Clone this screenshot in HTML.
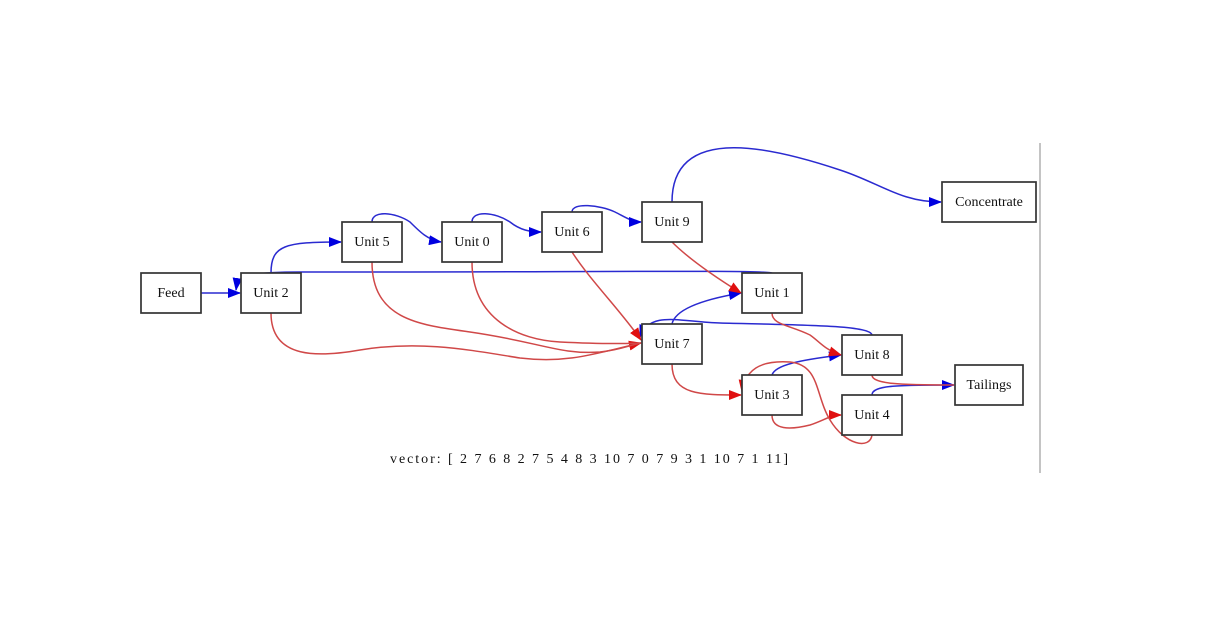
<!DOCTYPE html>
<html><head><style>
body{margin:0;background:#fff;}
svg text{font-family:"Liberation Serif",serif;font-size:14px;}
</style></head><body>
<svg width="1205" height="636" xmlns="http://www.w3.org/2000/svg">
<defs>
<marker id="b" markerWidth="13" markerHeight="10" refX="12" refY="5" orient="auto" markerUnits="userSpaceOnUse"><path d="M0,0 L13,5 L0,10 z" fill="#0000e0"/></marker>
<marker id="r" markerWidth="13" markerHeight="10" refX="12" refY="5" orient="auto" markerUnits="userSpaceOnUse"><path d="M0,0 L13,5 L0,10 z" fill="#e01010"/></marker>
</defs>
<line x1="1040" y1="143" x2="1040" y2="473" stroke="#888" stroke-width="1"/>
<g fill="none" stroke-width="1.5">
<g stroke="#2a2ad0">
<path d="M201,293 L240,293" marker-end="url(#b)"/>
<path d="M271,273 C271,245 285,242 341,242" marker-end="url(#b)"/>
<path d="M372,222 C372,210 395,212 410,222 C420,232 428,240 441,242" marker-end="url(#b)"/>
<path d="M472,222 C472,210 495,212 510,222 C520,230 530,232 541,232" marker-end="url(#b)"/>
<path d="M572,212 C572,202 600,205 615,212 C625,217 632,222 641,222" marker-end="url(#b)"/>
<path d="M672,202 C672,120 780,150 840,170 C880,183 900,202 941,202" marker-end="url(#b)"/>
<path d="M772,273 C770,270 600,272 300,272 C250,272 238,275 236,290" marker-end="url(#b)"/>
<path d="M672,324 C675,310 700,300 741,293" marker-end="url(#b)"/>
<path d="M872,335 C870,325 800,325 720,323 C680,322 650,310 640,337" marker-end="url(#b)"/>
<path d="M772,375 C775,365 800,360 841,355" marker-end="url(#b)"/>
<path d="M872,395 C872,385 900,385 954,385" marker-end="url(#b)"/>
</g>
<g stroke="#d04848">
<path d="M271,313 C271,360 320,357 360,350 C420,340 470,350 520,358 C570,364 600,352 641,343" marker-end="url(#r)"/>
<path d="M372,262 C372,320 420,325 470,332 C540,342 560,355 600,352 C620,350 630,345 641,343"/>
<path d="M472,262 C472,320 520,340 560,342 C600,344 620,344 641,343"/>
<path d="M572,252 C590,280 620,310 641,340" marker-end="url(#r)"/>
<path d="M672,242 C690,260 720,280 741,293" marker-end="url(#r)"/>
<path d="M772,313 C772,325 790,325 810,335 C820,342 825,350 841,355" marker-end="url(#r)"/>
<path d="M672,364 C672,395 700,395 741,395" marker-end="url(#r)"/>
<path d="M772,415 C772,430 790,430 810,425 C825,420 830,415 841,415" marker-end="url(#r)"/>
<path d="M872,435 C870,450 845,445 830,420 C815,395 820,365 790,362 C760,360 745,370 742,392" marker-end="url(#r)"/>
<path d="M872,375 C872,384 900,385 954,385"/>
</g>
</g>
<g fill="#fff" stroke="#333" stroke-width="1.7">
<rect x="141" y="273" width="60" height="40"/>
<rect x="241" y="273" width="60" height="40"/>
<rect x="342" y="222" width="60" height="40"/>
<rect x="442" y="222" width="60" height="40"/>
<rect x="542" y="212" width="60" height="40"/>
<rect x="642" y="202" width="60" height="40"/>
<rect x="942" y="182" width="94" height="40"/>
<rect x="742" y="273" width="60" height="40"/>
<rect x="642" y="324" width="60" height="40"/>
<rect x="842" y="335" width="60" height="40"/>
<rect x="955" y="365" width="68" height="40"/>
<rect x="742" y="375" width="60" height="40"/>
<rect x="842" y="395" width="60" height="40"/>
</g>
<g text-anchor="middle" fill="#111">
<text x="171" y="297">Feed</text>
<text x="271" y="297">Unit 2</text>
<text x="372" y="246">Unit 5</text>
<text x="472" y="246">Unit 0</text>
<text x="572" y="236">Unit 6</text>
<text x="672" y="226">Unit 9</text>
<text x="989" y="206">Concentrate</text>
<text x="772" y="297">Unit 1</text>
<text x="672" y="348">Unit 7</text>
<text x="872" y="359">Unit 8</text>
<text x="989" y="389">Tailings</text>
<text x="772" y="399">Unit 3</text>
<text x="872" y="419">Unit 4</text>
</g>
<text x="390" y="463" textLength="398" lengthAdjust="spacing" fill="#111">vector: [ 2 7 6 8 2 7 5 4 8 3 10 7 0 7 9 3 1 10 7 1 11]</text>
</svg>
</body></html>
